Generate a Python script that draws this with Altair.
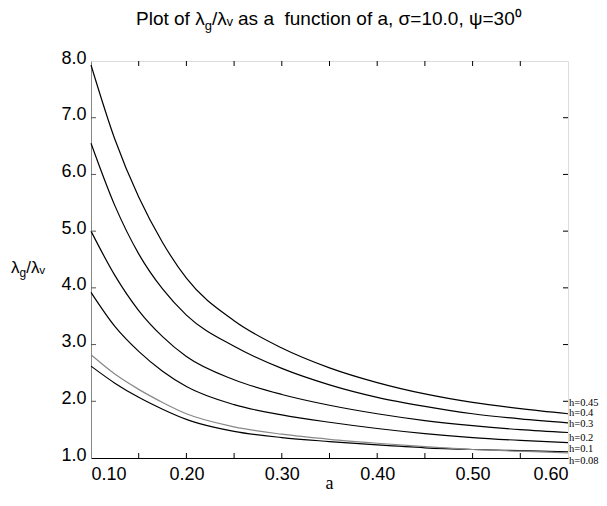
import altair as alt
import pandas as pd

# ---- data ----
a_vals = [0.10, 0.125, 0.15, 0.175, 0.20, 0.25, 0.30, 0.35, 0.40, 0.45, 0.50, 0.55, 0.60]
h045 = [7.93, 6.62, 5.60, 4.80, 4.17, 3.42, 2.94, 2.59, 2.33, 2.13, 1.98, 1.87, 1.78]
h040 = [6.55, 5.45, 4.60, 3.98, 3.52, 2.97, 2.58, 2.29, 2.07, 1.91, 1.78, 1.69, 1.62]
h030 = [5.00, 4.22, 3.60, 3.14, 2.79, 2.38, 2.12, 1.93, 1.78, 1.66, 1.57, 1.50, 1.45]
h020 = [3.92, 3.32, 2.88, 2.53, 2.26, 1.94, 1.76, 1.63, 1.52, 1.43, 1.36, 1.31, 1.27]
h010 = [2.62, 2.32, 2.07, 1.86, 1.68, 1.47, 1.36, 1.29, 1.23, 1.18, 1.15, 1.13, 1.11]
h008 = [2.82, 2.48, 2.21, 1.98, 1.78, 1.55, 1.42, 1.33, 1.26, 1.20, 1.15, 1.12, 1.09]

series_names = ["h=0.45", "h=0.4", "h=0.3", "h=0.2", "h=0.1", "h=0.08"]
series_vals = [h045, h040, h030, h020, h010, h008]
series_colors = ["#000000", "#000000", "#000000", "#000000", "#000000", "#888888"]

label_y = [1.97, 1.79, 1.60, 1.36, 1.16, 0.95]   # where the right-hand labels sit
label_x = [0.60] * 6

x_ticks_minor = [0.15, 0.20, 0.25, 0.30, 0.35, 0.40, 0.45, 0.50, 0.55]
x_labels = [0.10, 0.20, 0.30, 0.40, 0.50, 0.60]
y_ticks = [2, 3, 4, 5, 6, 7]
y_labels = [1, 2, 3, 4, 5, 6, 7, 8]

W, H = 477, 397

rows = []
for name, vals in zip(series_names, series_vals):
    for a, v in zip(a_vals, vals):
        rows.append({"a": a, "v": v, "h": name})
df = pd.DataFrame(rows)

xs = alt.Scale(domain=[0.1, 0.6], nice=False, zero=False)
ys = alt.Scale(domain=[1, 8], nice=False, zero=False)

lines = alt.Chart(df).mark_line(strokeWidth=1.2, interpolate="monotone").encode(
    x=alt.X("a:Q", scale=xs,
            axis=alt.Axis(values=x_labels, format=".2f", tickSize=0, labelFont="Liberation Sans",
                          labelFontSize=18, labelColor="black", labelPadding=7, domainColor="black",
                          grid=False, title=None)),
    y=alt.Y("v:Q", scale=ys,
            axis=alt.Axis(values=y_labels, format=".1f", tickSize=0, labelFont="Liberation Sans",
                          labelFontSize=18, labelColor="black", labelPadding=5, domainColor="#888888",
                          grid=False, title=None, labelBaseline="bottom", labelOffset=6)),
    color=alt.Color("h:N", scale=alt.Scale(domain=series_names, range=series_colors), legend=None),
    detail="h:N",
)

lab_df = pd.DataFrame({"t": series_names, "x": label_x, "y": label_y})
labels = alt.Chart(lab_df).mark_text(align="left", baseline="middle", dx=1,
                                     font="Liberation Serif", fontSize=10.5, color="black").encode(
    x=alt.X("x:Q", scale=xs), y=alt.Y("y:Q", scale=ys), text="t:N")

xt = pd.DataFrame({"a": x_ticks_minor})
xt_bottom = alt.Chart(xt).mark_rule(color="black", strokeWidth=1).encode(
    x=alt.X("a:Q", scale=xs), y=alt.value(H), y2=alt.value(H - 5))
xt_top = alt.Chart(xt).mark_rule(color="black", strokeWidth=1).encode(
    x=alt.X("a:Q", scale=xs), y=alt.value(0), y2=alt.value(5))
yt = pd.DataFrame({"v": y_ticks})
yt_left = alt.Chart(yt).mark_rule(color="#555555", strokeWidth=1).encode(
    y=alt.Y("v:Q", scale=ys), x=alt.value(0), x2=alt.value(5))
yt_right = alt.Chart(yt).mark_rule(color="black", strokeWidth=1).encode(
    y=alt.Y("v:Q", scale=ys), x=alt.value(W), x2=alt.value(W - 5))

# x-axis title
xtitle = alt.Chart(pd.DataFrame({"t": ["a"]})).mark_text(
    align="center", baseline="alphabetic", font="Liberation Serif", fontSize=18, color="black").encode(
    x=alt.value(W / 2), y=alt.value(H + 31), text="t:N")

# ---- text pieces with subscripts ----
NB = "\u00a0"
WID = {NB: 278, ' ': 278, 'P': 667, 'l': 222, 'o': 556, 't': 278, 'f': 278, 'λ': 500, 'g': 556}
def tw(s, size):
    return sum(WID.get(ch, 556) for ch in s) * size / 1000.0

def pieces_layers(pieces, x_start, y_base):
    out = []
    x = x_start
    for text, size, dy in pieces:
        d = pd.DataFrame({"t": [text]})
        out.append(alt.Chart(d).mark_text(align="left", baseline="alphabetic", font="Liberation Sans",
                                          fontSize=size, color="black").encode(
            x=alt.value(x), y=alt.value(y_base + dy), text="t:N"))
        x += tw(text, size)
    return out

title_pieces = [("Plot of λ".replace(" ", NB), 19, 0), ("g", 13, 5),
                ("/λᵥ as a  function of a, σ=10.0, ψ=30⁰".replace(" ", NB), 19, 0)]
title_layers = pieces_layers(title_pieces, 45, -36)

ylab_pieces = [("λ", 17, 0), ("g", 12, 4), ("/λᵥ", 17, 0)]
ylab_layers = pieces_layers(ylab_pieces, -80, 212)

chart = alt.layer(lines, labels, xt_bottom, xt_top, yt_left, yt_right, xtitle,
                  *title_layers, *ylab_layers).properties(
    width=W, height=H,
    padding={"left": 83, "top": 53, "right": 31, "bottom": 35},
    autosize=alt.AutoSizeParams(type="none"),
).configure_view(stroke="black", strokeWidth=1).configure(background="white")

chart.save("out.html", embed_options={"renderer": "svg", "actions": False})
